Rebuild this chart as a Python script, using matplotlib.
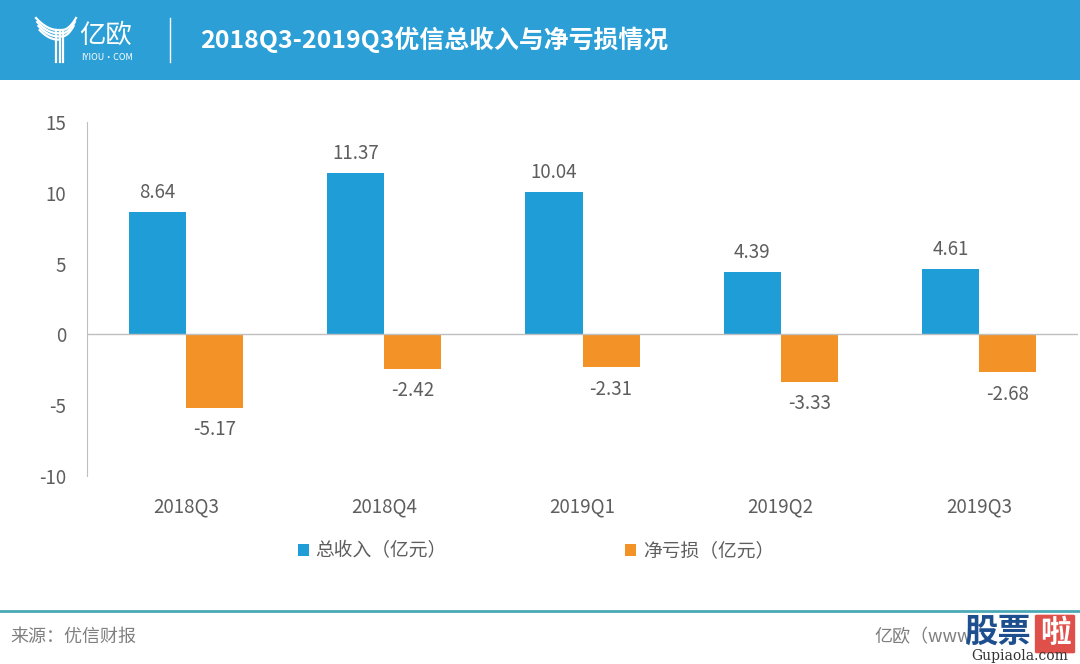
import matplotlib
matplotlib.use("Agg")
import matplotlib.pyplot as plt
from matplotlib.patches import FancyBboxPatch, Rectangle
from matplotlib.lines import Line2D
import numpy as np

plt.rcParams['font.family'] = ['Noto Sans CJK SC', 'DejaVu Sans']

categories = ["2018Q3", "2018Q4", "2019Q1", "2019Q2", "2019Q3"]
revenue = [8.64, 11.37, 10.04, 4.39, 4.61]
net_loss = [-5.17, -2.42, -2.31, -3.33, -2.68]
series_names = ["总收入（亿元）", "净亏损（亿元）"]
yticks = [-10, -5, 0, 5, 10, 15]
title = "2018Q3-2019Q3优信总收入与净亏损情况"
source = "来源：优信财报"

BLUE = "#1f9dd6"
ORANGE = "#f39226"
HEADER = "#2b9fd6"
GRAY = "#5e5e5e"
FS = 13.5

W, H = 1080, 664
fig = plt.figure(figsize=(W / 100, H / 100), dpi=100)

def fx(px):
    return px / W

def fy(py):
    return 1 - py / H

# header band
fig.patches.append(Rectangle((0, fy(80)), 1, 80 / H, transform=fig.transFigure,
                             facecolor=HEADER, edgecolor="none", zorder=0))
fig.text(fx(200), fy(40), title, color="white", fontsize=17.9, fontweight="bold",
         va="center", ha="left")
# separator
fig.add_artist(Line2D([fx(170), fx(170)], [fy(18), fy(62)], color="white", lw=1,
                      transform=fig.transFigure))
# logo text
fig.text(fx(79), fy(35), "亿欧", color="white", fontsize=19, va="center", ha="left",
         fontweight="light")
fig.text(fx(81), fy(57), "IYIOU·COM", color="white", fontsize=6.5, va="center", ha="left")
# logo Y strokes
t = np.linspace(0, 1, 30)
for i, off in enumerate([0, 4, 8, 12]):
    xs = 36 + off * 0.3 + (58 - 36 - off * 0.3) * t
    ys = 18 + off + (1 - (1 - t) ** 2) * (12 - off * 0.2)
    fig.add_artist(Line2D([fx(v) for v in xs], [fy(v) for v in ys], color="white",
                          lw=1.6, transform=fig.transFigure))
for i, off in enumerate([0, 4, 8]):
    xs = 76 - off * 0.3 - (76 - 62 - off * 0.3) * t
    ys = 18 + off + (1 - (1 - t) ** 2) * (12 - off * 0.2)
    fig.add_artist(Line2D([fx(v) for v in xs], [fy(v) for v in ys], color="white",
                          lw=1.6, transform=fig.transFigure))
for xv in [56, 59.5, 63]:
    fig.add_artist(Line2D([fx(xv), fx(xv)], [fy(30), fy(62)], color="white",
                          lw=1.6, transform=fig.transFigure))

# axes
ax = fig.add_axes([fx(87), fy(476), fx(1078) - fx(87), (476 - 122) / H])
x = np.arange(len(categories))
bw = 0.288
ax.bar(x - bw / 2, revenue, width=bw, color=BLUE, label=series_names[0], zorder=2)
ax.bar(x + bw / 2, net_loss, width=bw, color=ORANGE, label=series_names[1], zorder=2)
ax.set_xlim(-0.5, len(categories) - 0.5)
ax.set_ylim(-10, 15)
ax.set_yticks(yticks)
ax.set_yticklabels([str(v) for v in yticks], color=GRAY, fontsize=FS, fontweight="light")
ax.set_xticks(x)
ax.set_xticklabels(categories, color=GRAY, fontsize=FS, fontweight="light")
ax.tick_params(axis="both", length=0)
ax.tick_params(axis="y", pad=15)
ax.tick_params(axis="x", pad=15)
for s in ["top", "right", "bottom"]:
    ax.spines[s].set_visible(False)
ax.spines["left"].set_color("#bfbfbf")
ax.axhline(0, color="#bfbfbf", lw=1, zorder=3)

for i, v in enumerate(revenue):
    ax.annotate(f"{v:.2f}", (x[i] - bw / 2, v), xytext=(0, 14), textcoords="offset points",
                ha="center", va="center", color=GRAY, fontsize=FS, fontweight="light")
for i, v in enumerate(net_loss):
    ax.annotate(f"{v:.2f}", (x[i] + bw / 2, v), xytext=(0, -16), textcoords="offset points",
                ha="center", va="center", color=GRAY, fontsize=FS, fontweight="light")

leg = fig.legend(loc="center", bbox_to_anchor=(fx(536), fy(551)), ncol=2, frameon=False,
                 fontsize=FS, handlelength=0.6, handleheight=0.6, handletextpad=0.35,
                 columnspacing=9.5)
for txt in leg.get_texts():
    txt.set_color(GRAY)

# footer
fig.add_artist(Line2D([0, 1], [fy(611), fy(611)], color="#4aa9b5", lw=2,
                      transform=fig.transFigure))
fig.text(fx(10), fy(637), source, color="#7f7f7f", fontsize=13, va="center", ha="left")
fig.text(fx(874), fy(637), "亿欧（www", color="#7f7f7f", fontsize=13, va="center", ha="left")
# watermark
fig.patches.append(Rectangle((fx(960), fy(652)), fx(75), 40 / H, transform=fig.transFigure,
                             facecolor="white", edgecolor="none", zorder=1))
fig.text(fx(997), fy(632), "股票", color="#1d4f8f", fontsize=24, fontweight="bold",
         va="center", ha="center", zorder=3)
fig.patches.append(FancyBboxPatch((fx(1037), fy(652)), fx(36), 36 / H,
                                  boxstyle="round,pad=0.002", transform=fig.transFigure,
                                  facecolor="#e0504a", edgecolor="none", zorder=2))
fig.text(fx(1055), fy(633), "啦", color="white", fontsize=22, fontweight="bold",
         va="center", ha="center", zorder=3)
fig.text(fx(1020), fy(656), "Gupiaola.com", color="#333333", fontsize=10,
         family="DejaVu Serif", va="center", ha="center", zorder=3)

fig.savefig("out.png", dpi=100)
